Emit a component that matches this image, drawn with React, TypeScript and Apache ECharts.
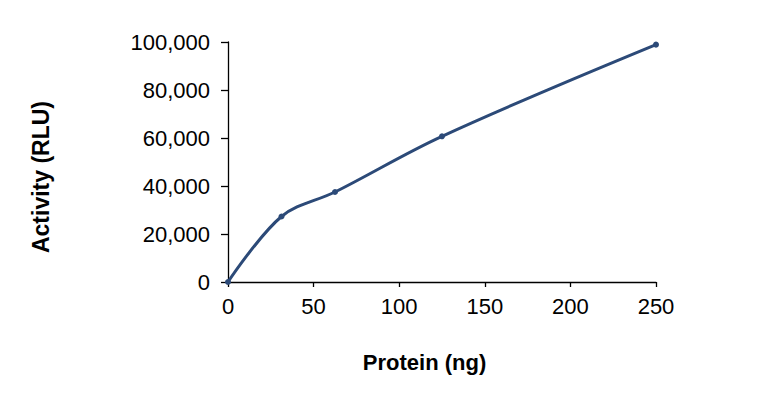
import React, { useEffect, useRef } from "react";
import * as echarts from "echarts";

const proteinNg = [0, 31.25, 62.5, 125, 250];
const activityRlu = [0, 27300, 37500, 60700, 98900];
const xTitle = "Protein (ng)";
const yTitle = "Activity (RLU)";

const FONT = "'Liberation Sans', Arial, sans-serif";
const LINE = "#2C4A78";

export default function App() {
  const ref = useRef<HTMLDivElement>(null);
  useEffect(() => {
    if (!ref.current) return;
    const chart = echarts.init(ref.current, undefined, { renderer: "svg" });
    chart.setOption({
      animation: false,
      backgroundColor: "#ffffff",
      grid: { left: 228, right: 104, top: 42, bottom: 127, containLabel: false },
      xAxis: {
        type: "value",
        min: 0,
        max: 250,
        interval: 50,
        axisLine: { show: true, lineStyle: { color: "#000", width: 1.3 } },
        axisTick: { show: true, length: 5, lineStyle: { color: "#000", width: 1.3 } },
        axisLabel: { color: "#000", fontSize: 22, fontFamily: FONT, margin: 13 },
        splitLine: { show: false },
      },
      yAxis: {
        type: "value",
        min: 0,
        max: 100000,
        interval: 20000,
        axisLine: { show: true, lineStyle: { color: "#000", width: 1.3 } },
        axisTick: { show: true, length: 7, lineStyle: { color: "#000", width: 1.3 } },
        axisLabel: {
          color: "#000",
          fontSize: 22,
          fontFamily: FONT,
          margin: 18,
          formatter: (v: number) => v.toLocaleString("en-US"),
        },
        splitLine: { show: false },
      },
      graphic: [
        {
          type: "text",
          x: 424.5,
          y: 362,
          style: {
            text: xTitle,
            fontSize: 22,
            fontWeight: "bold",
            fontFamily: FONT,
            fill: "#000",
            align: "center",
            verticalAlign: "middle",
          },
        },
        {
          type: "text",
          x: 41,
          y: 177,
          rotation: Math.PI / 2,
          style: {
            text: yTitle,
            fontSize: 23,
            fontWeight: "bold",
            fontFamily: FONT,
            fill: "#000",
            align: "center",
            verticalAlign: "middle",
          },
        },
      ],
      series: [
        {
          type: "line",
          data: proteinNg.map((x, i) => [x, activityRlu[i]]),
          smooth: 0.35,
          symbol: "circle",
          symbolSize: 6,
          lineStyle: { color: LINE, width: 3 },
          itemStyle: { color: LINE },
        },
      ],
    });
    return () => chart.dispose();
  }, []);
  return <div ref={ref} style={{ width: 760, height: 409, position: "absolute", left: 0, top: 0 }} />;
}
